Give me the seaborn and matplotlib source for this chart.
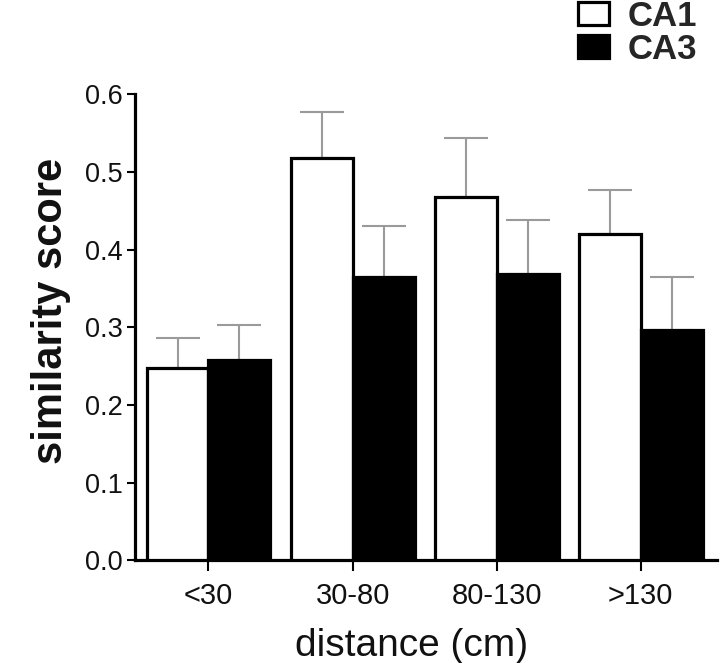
import matplotlib
matplotlib.use("Agg")
import matplotlib.pyplot as plt
import seaborn as sns
import pandas as pd
import numpy as np
from matplotlib.patches import Patch

categories = ["<30", "30-80", "80-130", ">130"]
groups = ["CA1", "CA3"]
ca1_mean = [0.247, 0.518, 0.467, 0.420]
ca1_sem = [0.039, 0.059, 0.076, 0.056]
ca3_mean = [0.258, 0.364, 0.368, 0.296]
ca3_sem = [0.045, 0.066, 0.070, 0.068]
yticks = [0.0, 0.1, 0.2, 0.3, 0.4, 0.5, 0.6]

df = pd.DataFrame({
    "distance": categories * 2,
    "group": ["CA1"] * 4 + ["CA3"] * 4,
    "score": ca1_mean + ca3_mean,
    "sem": ca1_sem + ca3_sem,
})

sns.set_theme(style="white")
plt.rcParams["font.family"] = ["Liberation Sans", "DejaVu Sans"]

fig = plt.figure(figsize=(7.2, 6.63), dpi=100)
ax = fig.add_axes([0.1875, 0.155, 0.8085, 0.703])

sns.barplot(data=df, x="distance", y="score", hue="group", order=categories,
            hue_order=groups, palette={"CA1": "white", "CA3": "black"},
            errorbar=None, width=0.86, edgecolor="black", linewidth=2.3,
            legend=False, ax=ax, zorder=3)

# error bars (upper only), positioned from bar patches
bars = [p for p in ax.patches if p.get_height() > 0]
for p in bars:
    cx = p.get_x() + p.get_width() / 2
    h = p.get_height()
    row = df[np.isclose(df["score"], h)].iloc[0]
    ax.errorbar([cx], [h], yerr=[[0], [row["sem"]]], fmt="none",
                ecolor="#9a9a9a", elinewidth=1.5, capsize=16, capthick=1.5,
                zorder=2)

ax.set_ylim(0, 0.6)
ax.set_xlim(-0.51, 3.53)
ax.set_yticks(yticks)
ax.set_yticklabels([f"{v:.1f}" for v in yticks])
for s in ["top", "right"]:
    ax.spines[s].set_visible(False)
for s in ["left", "bottom"]:
    ax.spines[s].set_linewidth(2.3)
    ax.spines[s].set_color("black")
ax.tick_params(axis="both", which="major", direction="out", length=6,
               width=1.5, color="black", labelsize=19.5, labelcolor="#111111",
               bottom=True, left=True, pad=3)
ax.tick_params(axis="x", length=8, pad=8, labelsize=21)
ax.set_xlabel("distance (cm)", fontsize=28, color="#111111")
ax.xaxis.set_label_coords(0.475, -0.146)
ax.set_ylabel("similarity score", fontsize=30, fontweight="bold",
              color="#111111")
ax.yaxis.set_label_coords(-0.11, 0.534)
ax.grid(False)

handles = [Patch(facecolor="white", edgecolor="black", linewidth=2.3),
           Patch(facecolor="black", edgecolor="black", linewidth=2.3)]
fig.legend(handles, groups, loc="upper left", bbox_to_anchor=(0.783, 1.021),
           frameon=False, prop={"weight": "bold", "size": 25},
           handlelength=0.9, handleheight=0.64, handletextpad=0.55,
           labelspacing=0.0, borderaxespad=0)

fig.savefig("out.png", dpi=100, facecolor="white")
